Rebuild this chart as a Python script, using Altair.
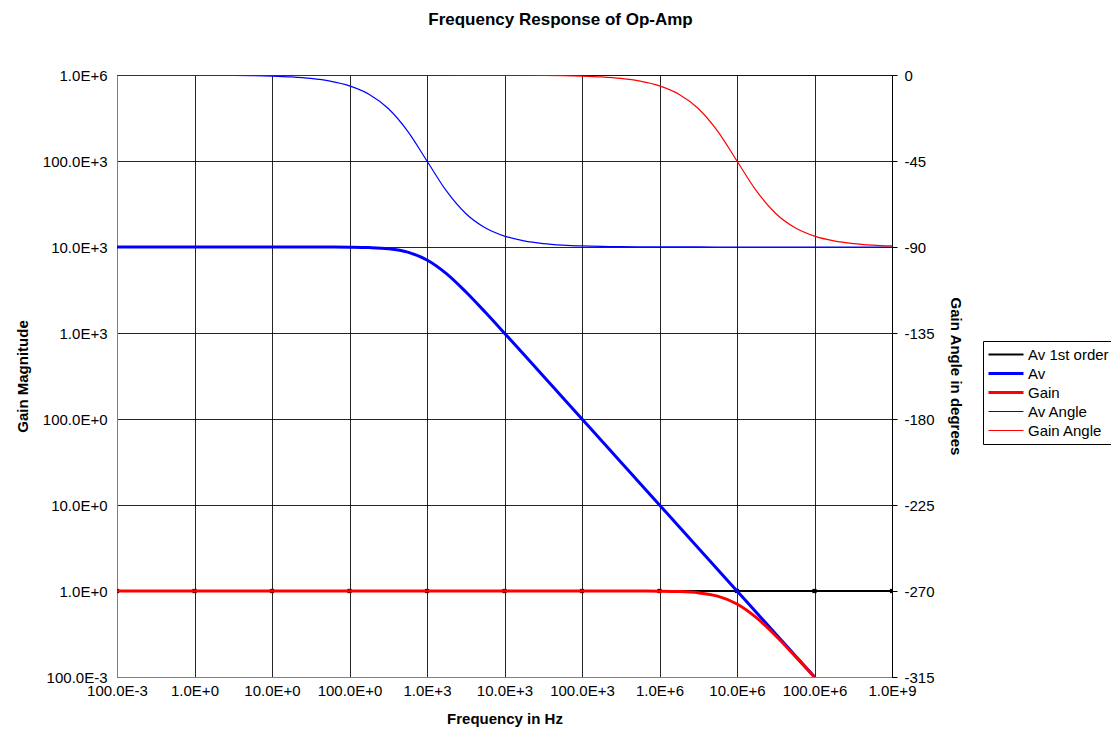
import altair as alt
import pandas as pd

# ---------------- data ----------------
freq = [0.1, 0.178, 0.316, 0.562,
        1.0, 1.78, 3.16, 5.62,
        10.0, 17.8, 31.6, 56.2,
        100.0, 178.0, 316.0, 562.0,
        1.0e3, 1.78e3, 3.16e3, 5.62e3,
        1.0e4, 1.78e4, 3.16e4, 5.62e4,
        1.0e5, 1.78e5, 3.16e5, 5.62e5,
        1.0e6, 1.78e6, 3.16e6, 5.62e6,
        1.0e7, 1.78e7, 3.16e7, 5.62e7,
        1.0e8, 1.78e8, 3.16e8, 5.62e8,
        1.0e9]

first_order = [1.0] * 41

av_mag = [10000, 10000, 10000, 10000,
          10000, 10000, 10000, 10000,
          9999, 9998, 9995, 9984,
          9950, 9845, 9535, 8717,
          7071, 4901, 3015, 1751,
          995, 562, 316, 178,
          100, 56.2, 31.6, 17.8,
          10.0, 5.62, 3.16, 1.78,
          1.0, 0.562, 0.316, 0.178,
          0.1, None, None, None,
          None]

gain_mag = [1.0, 1.0, 1.0, 1.0,
            1.0, 1.0, 1.0, 1.0,
            1.0, 1.0, 1.0, 1.0,
            1.0, 1.0, 1.0, 1.0,
            1.0, 1.0, 1.0, 1.0,
            1.0, 1.0, 1.0, 1.0,
            1.0, 1.0, 0.9995, 0.998,
            0.995, 0.985, 0.953, 0.872,
            0.707, 0.490, 0.302, 0.175,
            0.1, None, None, None,
            None]

av_angle = [0.0, 0.0, -0.02, -0.03,
            -0.06, -0.10, -0.18, -0.32,
            -0.57, -1.02, -1.81, -3.22,
            -5.71, -10.08, -17.55, -29.36,
            -45.0, -60.64, -72.45, -79.92,
            -84.29, -86.78, -88.19, -88.98,
            -89.43, -89.68, -89.82, -89.90,
            -89.94, -89.97, -89.98, -89.99,
            -90.0, -90.0, -90.0, -90.0,
            -90.0, -90.0, -90.0, -90.0,
            -90.0]

gain_angle = [0.0, 0.0, 0.0, 0.0,
              0.0, 0.0, 0.0, 0.0,
              0.0, 0.0, 0.0, 0.0,
              0.0, 0.0, 0.0, 0.0,
              -0.01, -0.01, -0.02, -0.03,
              -0.06, -0.10, -0.18, -0.32,
              -0.57, -1.02, -1.81, -3.22,
              -5.71, -10.08, -17.55, -29.36,
              -45.0, -60.64, -72.45, -79.92,
              -84.29, -86.78, -88.19, -88.98,
              -89.43]

series_names = ["Av 1st order", "Av", "Gain", "Av Angle", "Gain Angle"]
series_colors = ["#000000", "#0000FF", "#FF0000", "#0000FF", "#FF0000"]
series_widths = [2, 3, 3, 1.2, 1.2]

x_tick_values = [0.1, 1, 10, 100, 1e3, 1e4, 1e5, 1e6, 1e7, 1e8, 1e9]
x_tick_labels = ["100.0E-3", "1.0E+0", "10.0E+0", "100.0E+0", "1.0E+3",
                 "10.0E+3", "100.0E+3", "1.0E+6", "10.0E+6", "100.0E+6", "1.0E+9"]
y_tick_values = [0.1, 1, 10, 100, 1e3, 1e4, 1e5, 1e6]
y_tick_labels = ["100.0E-3", "1.0E+0", "10.0E+0", "100.0E+0", "1.0E+3",
                 "10.0E+3", "100.0E+3", "1.0E+6"]
angle_ticks = [-315, -270, -225, -180, -135, -90, -45, 0]

# ---------------- tables ----------------
rows = []
for name, vals in [("Av 1st order", first_order), ("Av", av_mag), ("Gain", gain_mag),
                   ("Av Angle", av_angle), ("Gain Angle", gain_angle)]:
    for f, v in zip(freq, vals):
        if v is not None:
            rows.append({"series": name, "f": f, "v": v})
df = pd.DataFrame(rows)

FONT = "Liberation Sans"

def lbl_expr(labels):
    arr = "[" + ",".join("'" + s + "'" for s in labels) + "]"
    return arr + "[round(log(datum.value)/LN10)+1]"

x_enc = alt.X("f:Q", scale=alt.Scale(type="log", domain=[0.1, 1e9], nice=False),
              axis=alt.Axis(values=x_tick_values, labelExpr=lbl_expr(x_tick_labels),
                            title="Frequency in Hz", grid=True, gridColor="#000000",
                            gridOpacity=0.85, domainColor="#808080", ticks=False,
                            labelPadding=6, titlePadding=13, labelFlush=False,
                            labelOverlap=False))

color_enc = alt.Color("series:N", scale=alt.Scale(domain=series_names, range=series_colors),
                      title=None)
width_enc = alt.StrokeWidth("series:N",
                            scale=alt.Scale(type="ordinal", domain=series_names,
                                            range=series_widths),
                            title=None)

y_mag = alt.Y("v:Q", scale=alt.Scale(type="log", domain=[0.1, 1e6], nice=False),
              axis=alt.Axis(values=y_tick_values, labelExpr=lbl_expr(y_tick_labels),
                            title="Gain Magnitude", grid=True, gridColor="#000000",
                            gridOpacity=0.85, domainColor="#808080", ticks=False,
                            labelPadding=10, titlePadding=12, labelFlush=False,
                            labelOverlap=False))

y_ang = alt.Y("v:Q", scale=alt.Scale(domain=[-315, 0], nice=False, zero=False),
              axis=alt.Axis(values=angle_ticks, labelExpr="'' + datum.value",
                            title="Gain Angle in degrees", orient="right", grid=False,
                            domainColor="#000000", tickColor="#000000", tickSize=5,
                            labelPadding=7, titlePadding=13, labelFlush=False,
                            labelOverlap=False))

base = alt.Chart(df)

def line_for(name, y):
    return base.transform_filter(alt.datum.series == name).mark_line(
        interpolate="monotone", clip=True).encode(
        x=x_enc, y=y, color=color_enc, strokeWidth=width_enc)

black_pts = base.transform_filter(
    "datum.series == 'Av 1st order' && abs(log(datum.f)/LN10 - round(log(datum.f)/LN10)) < 0.01"
).mark_square(size=18, color="#000000", opacity=1, clip=True).encode(x=x_enc, y=y_mag)

mag_layer = alt.layer(
    line_for("Av 1st order", y_mag),
    black_pts,
    line_for("Av", y_mag),
    line_for("Gain", y_mag),
)
ang_layer = alt.layer(
    line_for("Av Angle", y_ang),
    line_for("Gain Angle", y_ang),
)

chart = alt.layer(mag_layer, ang_layer).resolve_scale(y="independent").properties(
    width=775, height=602,
    autosize=alt.AutoSizeParams(type="none"),
    padding={"left": 109, "top": 67, "right": 219, "bottom": 54},
    title=alt.TitleParams("Frequency Response of Op-Amp", anchor="middle", dx=56,
                          fontSize=17, font=FONT, fontWeight="bold", offset=39,
                          color="#000000"),
).configure_view(stroke="#808080", strokeWidth=1).configure_axis(
    labelFont=FONT, labelFontSize=15, labelColor="#000000",
    titleFont=FONT, titleFontSize=15, titleFontWeight="bold", titleColor="#000000",
).configure_legend(
    orient="none", legendX=866, legendY=266, symbolType="stroke", symbolSize=1225,
    clipHeight=19, labelFont=FONT, labelFontSize=15, labelColor="#000000",
    labelOffset=3, strokeColor="#000000", padding=4, rowPadding=0,
    fillColor="#FFFFFF", cornerRadius=0,
)

chart.save("out.html", embed_options={"renderer": "svg", "actions": False})
